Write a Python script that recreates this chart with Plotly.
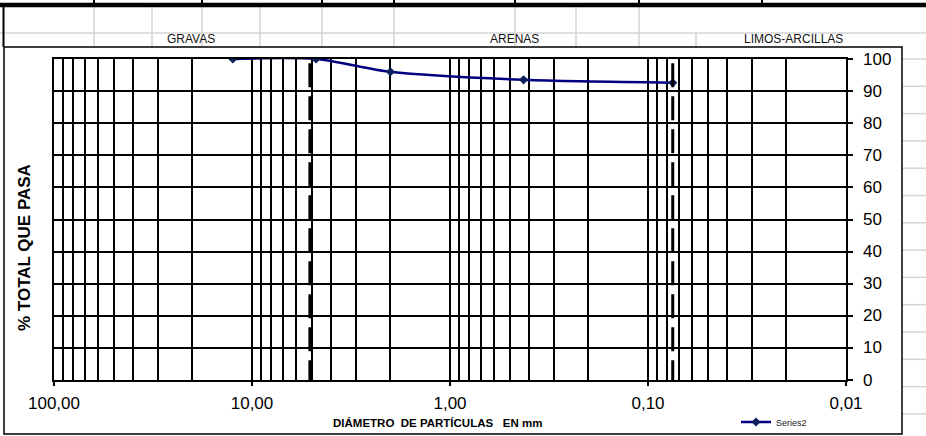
import plotly.graph_objects as go

# Grain-size curve: sieve opening (mm) vs. cumulative percent passing
diametro_mm = [12.5, 4.75, 2.0, 0.425, 0.075]
pasa_pct = [100.0, 100.0, 96.0, 93.5, 92.6]

# Boundaries between gravel / sand / fines
limites_mm = [5.1, 0.075]

x_ticks = [100, 10, 1, 0.1, 0.01]
x_ticktext = ["100,00", "10,00", "1,00", "0,10", "0,01"]
y_ticks = [0, 10, 20, 30, 40, 50, 60, 70, 80, 90, 100]

zonas = ["GRAVAS", "ARENAS", "LIMOS-ARCILLAS"]

W, H = 926, 436
L, R, T, B = 54, 846, 59, 380


def px(x):
    return (x - L) / (R - L)


def py(y):
    return (B - y) / (B - T)


# minor log gridlines (2..9 within each decade)
minor_vals = []
for e in [-2, -1, 0, 1]:
    for k in range(2, 10):
        minor_vals.append(k * 10 ** e)

FONT = "Arial, Liberation Sans, sans-serif"

fig = go.Figure()
fig.add_trace(go.Scatter(
    x=diametro_mm, y=pasa_pct, mode="lines+markers", name="Series2",
    line=dict(color="#000080", width=2.5, shape="spline", smoothing=0.8),
    marker=dict(symbol="diamond", size=7, color="#0b1f5c"),
))

shapes = []
# spreadsheet cell grid behind the chart
GREY = "#d4d4d4"
shapes.append(dict(type="line", xref="paper", yref="paper",
                   x0=px(0), x1=px(W), y0=py(33), y1=py(33),
                   line=dict(color=GREY, width=1.5), layer="below"))
y_row = 59.0
while y_row < H:
    shapes.append(dict(type="line", xref="paper", yref="paper",
                       x0=px(902), x1=px(W), y0=py(y_row), y1=py(y_row),
                       line=dict(color=GREY, width=1.5), layer="below"))
    y_row += 27.3
for xc in [94, 152, 202, 260, 322, 394, 515, 576, 639]:
    shapes.append(dict(type="line", xref="paper", yref="paper",
                       x0=px(xc), x1=px(xc), y0=py(6), y1=py(47),
                       line=dict(color=GREY, width=1.5), layer="below"))
shapes.append(dict(type="line", xref="paper", yref="paper",
                   x0=px(696), x1=px(696), y0=py(33), y1=py(47),
                   line=dict(color=GREY, width=1.5), layer="below"))
# thick border of the row above
shapes.append(dict(type="line", xref="paper", yref="paper",
                   x0=px(0), x1=px(W), y0=py(5), y1=py(5),
                   line=dict(color="black", width=4.5), layer="below"))
for xc in [94, 202, 322, 394, 515, 639, 762]:
    shapes.append(dict(type="line", xref="paper", yref="paper",
                       x0=px(xc), x1=px(xc), y0=py(0), y1=py(5),
                       line=dict(color="black", width=2), layer="below"))
shapes.append(dict(type="line", xref="paper", yref="paper",
                   x0=px(3.5), x1=px(3.5), y0=py(5), y1=py(47),
                   line=dict(color="black", width=2), layer="below"))
# chart frame
shapes.append(dict(type="rect", xref="paper", yref="paper",
                   x0=px(4), x1=px(902), y0=py(434), y1=py(47),
                   fillcolor="white", line=dict(color="black", width=1.5),
                   layer="below"))
# dashed boundary lines
for d in limites_mm:
    shapes.append(dict(type="line", xref="x", yref="y",
                       x0=d, x1=d, y0=-1.3, y1=101.3,
                       line=dict(color="black", width=3, dash="24px,9px"),
                       layer="above"))

annotations = []
for name, xc in zip(zonas, [191, 514, 793]):
    annotations.append(dict(text=name, xref="paper", yref="paper",
                            x=px(xc), y=py(38.5), showarrow=False,
                            xanchor="center", yanchor="middle",
                            font=dict(family=FONT, size=12, color="#111")))
# right-hand percentage labels, left-aligned like the spreadsheet chart
for v in y_ticks:
    annotations.append(dict(text=str(v), xref="paper", yref="y",
                            x=px(861), y=v, showarrow=False,
                            xanchor="left", yanchor="middle",
                            font=dict(family=FONT, size=17, color="black")))
annotations.append(dict(text="% TOTAL QUE PASA", xref="paper", yref="paper",
                        x=px(25), y=py(248), textangle=-90, showarrow=False,
                        xanchor="center", yanchor="middle",
                        font=dict(family=FONT, size=17, color="black",
                                  weight="bold")))
annotations.append(dict(
    text="DIÁMETRO\u00a0\u00a0DE PARTÍCULAS\u00a0\u00a0\u00a0EN mm",
    xref="paper", yref="paper", x=px(437), y=py(423), showarrow=False,
    xanchor="center", yanchor="middle",
    font=dict(family=FONT, size=11.5, color="black", weight="bold")))

fig.update_layout(
    width=W, height=H,
    margin=dict(l=L, r=W - R, t=T, b=H - B, pad=0, autoexpand=False),
    paper_bgcolor="white", plot_bgcolor="rgba(0,0,0,0)",
    font=dict(family=FONT, color="black"),
    shapes=shapes, annotations=annotations,
    showlegend=True,
    legend=dict(x=px(736), y=py(422), xanchor="left", yanchor="middle",
                bgcolor="rgba(0,0,0,0)", font=dict(size=9, color="#222"),
                itemwidth=30),
    xaxis=dict(
        type="log", range=[2, -2], autorange=False,
        tickmode="array", tickvals=x_ticks, ticktext=x_ticktext,
        ticks="outside", ticklen=4, tickwidth=1.5, tickcolor="black",
        showgrid=True, gridcolor="black", gridwidth=1.5,
        showline=True, linecolor="black", linewidth=1.5, mirror=True,
        zeroline=False, automargin=False, ticklabelstandoff=3,
        tickfont=dict(family=FONT, size=17, color="black"),
        minor=dict(tickmode="array", tickvals=minor_vals, showgrid=True,
                   gridcolor="black", gridwidth=1.5, ticks=""),
    ),
    yaxis=dict(
        range=[0, 100], autorange=False, side="right",
        tickmode="array", tickvals=y_ticks, showticklabels=False,
        ticks="outside", ticklen=5, tickwidth=1.5, tickcolor="black",
        showgrid=True, gridcolor="black", gridwidth=1.5,
        showline=True, linecolor="black", linewidth=1.5, mirror=True,
        zeroline=False, automargin=False,
    ),
)

fig.write_html("out.html")
